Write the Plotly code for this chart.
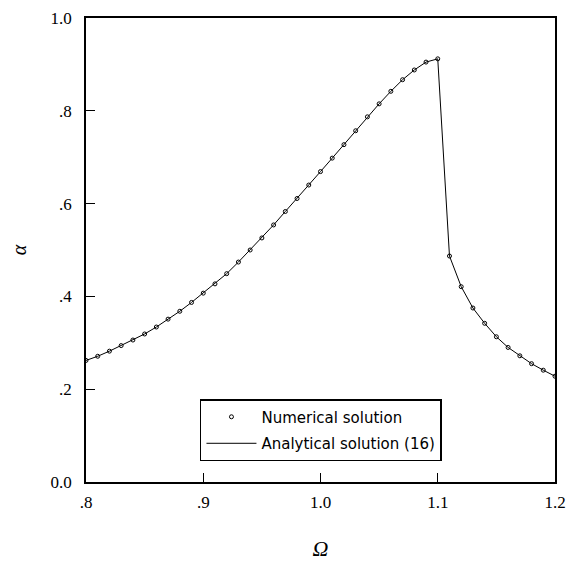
import plotly.graph_objects as go

omega = [0.80, 0.81, 0.82, 0.83, 0.84, 0.85, 0.86, 0.87, 0.88, 0.89,
         0.90, 0.91, 0.92, 0.93, 0.94, 0.95, 0.96, 0.97, 0.98, 0.99,
         1.00, 1.01, 1.02, 1.03, 1.04, 1.05, 1.06, 1.07, 1.08, 1.09,
         1.10, 1.11, 1.12, 1.13, 1.14, 1.15, 1.16, 1.17, 1.18, 1.19, 1.20]
alpha = [0.262, 0.271, 0.282, 0.294, 0.306, 0.319, 0.334, 0.351, 0.368, 0.387,
         0.407, 0.427, 0.449, 0.474, 0.500, 0.526, 0.554, 0.583, 0.611, 0.640,
         0.669, 0.698, 0.727, 0.757, 0.787, 0.815, 0.842, 0.867, 0.888, 0.905,
         0.912, 0.487, 0.421, 0.375, 0.342, 0.313, 0.290, 0.272, 0.255, 0.241, 0.228]

x_ticks = [0.8, 0.9, 1.0, 1.1, 1.2]
x_ticktext = [".8", ".9", "1.0", "1.1", "1.2"]
y_ticks = [0.0, 0.2, 0.4, 0.6, 0.8, 1.0]
y_ticktext = ["0.0", ".2", ".4", ".6", ".8", "1.0"]

fig = go.Figure()
fig.add_trace(go.Scatter(
    x=omega, y=alpha, mode="markers", name="Numerical solution", legendgroup="num",
    marker=dict(symbol="circle-open", size=4, color="black", line=dict(width=1, color="black")),
))
fig.add_trace(go.Scatter(
    x=omega, y=alpha, mode="lines", name="Analytical solution (16)", legendgroup="ana",
    line=dict(color="black", width=1),
))

serif = "Liberation Serif, Times New Roman, serif"
fig.update_layout(
    width=566, height=564,
    margin=dict(l=86, r=11, t=18, b=82, autoexpand=False),
    paper_bgcolor="white", plot_bgcolor="white",
    showlegend=True,
    legend=dict(
        x=0.243, y=0.112, xanchor="left", yanchor="middle",
        bordercolor="black", borderwidth=1.5, bgcolor="white",
        font=dict(family="DejaVu Sans, Liberation Sans, sans-serif", size=15, color="black"),
        itemwidth=50, traceorder="grouped", tracegroupgap=4,
    ),
    xaxis=dict(
        range=[0.8, 1.2], tickvals=x_ticks, ticktext=x_ticktext,
        ticks="inside", ticklen=9, tickwidth=1.2, tickcolor="black",
        showline=True, linecolor="black", linewidth=1.5, mirror=True,
        showgrid=False, zeroline=False, automargin=False,
        ticklabeloverflow="allow",
        tickfont=dict(family=serif, size=17, color="black"),
        ticklabelstandoff=4,
        title=dict(text="<i>Ω</i>", font=dict(family=serif, size=22, color="black"), standoff=29),
    ),
    yaxis=dict(
        range=[0.0, 1.0], tickvals=y_ticks, ticktext=y_ticktext,
        ticks="inside", ticklen=9, tickwidth=1.2, tickcolor="black",
        showline=True, linecolor="black", linewidth=1.5, mirror=True,
        showgrid=False, zeroline=False, automargin=False,
        tickfont=dict(family=serif, size=17, color="black"),
        ticklabelstandoff=9,
        title=dict(text="<i>α</i>", font=dict(family=serif, size=20, color="black"), standoff=19),
    ),
)

fig.write_html("out.html", config={"displayModeBar": False},
               post_script="document.body.style.margin='0px';")
